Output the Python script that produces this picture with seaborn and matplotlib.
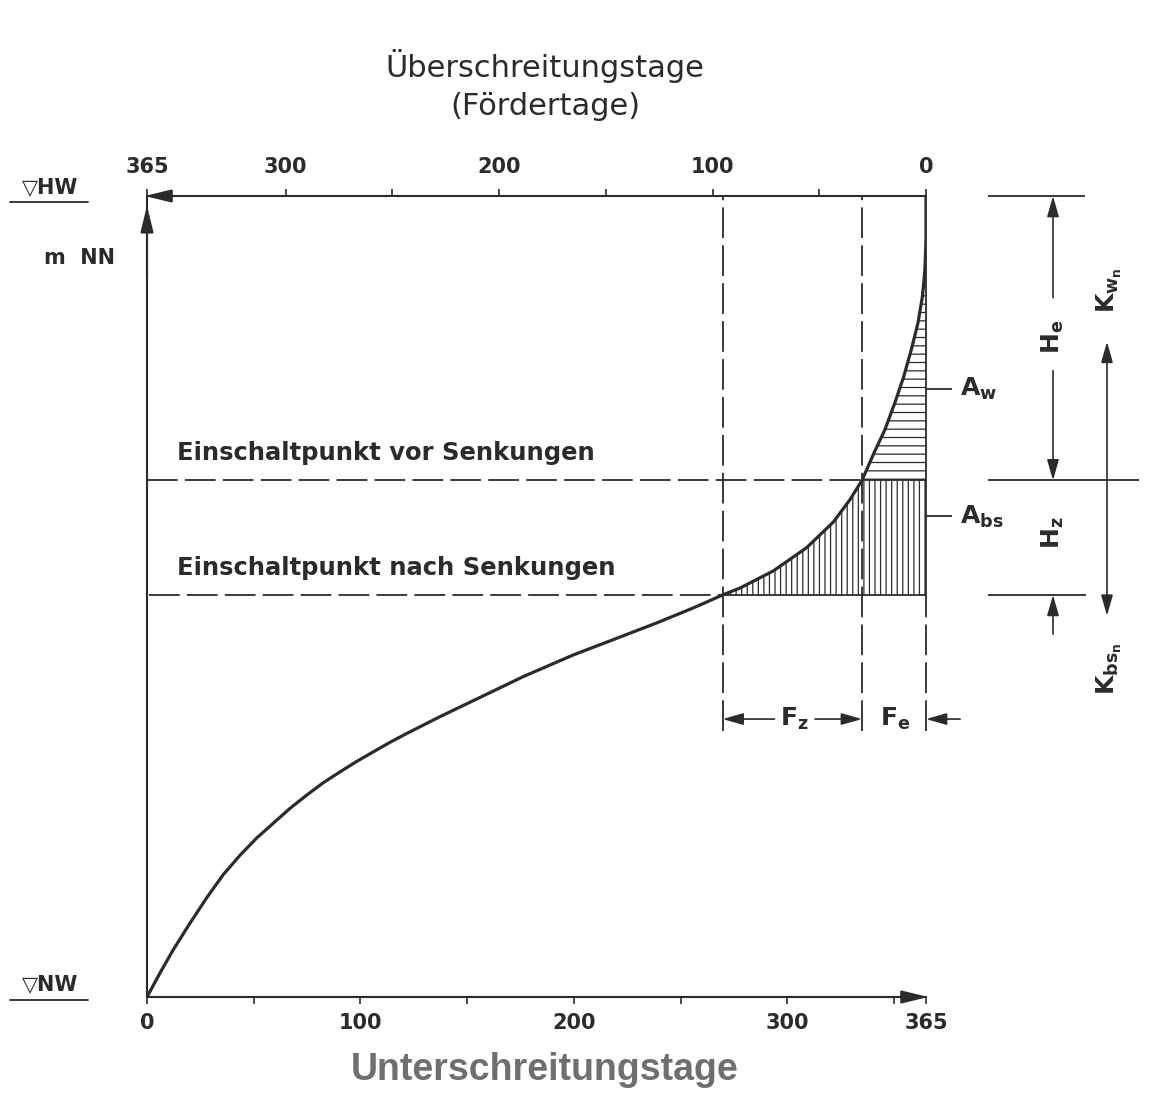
import numpy as np
import pandas as pd
import matplotlib
matplotlib.use("Agg")
import matplotlib.pyplot as plt
import seaborn as sns

# ---------------- data ----------------
days = [0, 6.1, 12.3, 20.1, 28.0, 35.8, 43.6, 51.4, 59.2, 67.0, 74.8, 82.6,
        90.4, 98.2, 106.0, 113.9, 121.7, 129.5, 137.3, 145.1, 152.9, 160.7,
        168.5, 176.3, 184.1, 191.9, 199.7, 207.5, 215.4, 223.2, 231.0, 238.8,
        246.6, 254.4, 262.2, 269.7, 277.9, 293.5, 309.1, 321.6, 329.4, 335.0,
        340.6, 345.7, 350.3, 354.5, 358.1, 361.2, 363.3, 364.5, 365, 365]
levels = [0, 3.0, 5.9, 9.2, 12.4, 15.3, 17.7, 19.85, 21.7, 23.55, 25.2, 26.75,
          28.1, 29.4, 30.6, 31.8, 32.9, 33.95, 35.0, 36.0, 37.0, 38.0, 39.0,
          40.0, 40.9, 41.8, 42.7, 43.5, 44.3, 45.1, 45.9, 46.7, 47.55, 48.4,
          49.3, 50.2, 51.06, 53.2, 56.1, 59.3, 62.1, 64.5, 67.9, 70.8, 74.1,
          77.4, 80.8, 84.1, 87.4, 90.8, 94.5, 100]
vor_day, vor_level = 335.0, 64.5      # Einschaltpunkt vor Senkungen
nach_day, nach_level = 269.7, 50.2    # Einschaltpunkt nach Senkungen
bottom_ticks = [0, 100, 200, 300, 365]
bottom_minor = [50, 150, 250, 350]
top_ticks = [365, 300, 200, 100, 0]
top_minor = [250, 150, 50]
xlabel_bottom = "Unterschreitungstage"
xlabel_top = "Überschreitungstage\n(Fördertage)"
label_vor = "Einschaltpunkt vor Senkungen"
label_nach = "Einschaltpunkt nach Senkungen"

# ---------------- style ----------------
sns.set_style("ticks")
plt.rcParams["font.family"] = ["DejaVu Sans"]
plt.rcParams["mathtext.fontset"] = "dejavusans"
plt.rcParams["hatch.linewidth"] = 0.9
INK = "#2b2b2b"
DASH = (0, (17, 4))

W, H = 1159, 1113
fig = plt.figure(figsize=(W / 100, H / 100), dpi=100)
fig.patch.set_facecolor("white")
ax = fig.add_axes([147 / W, 116 / H, 779 / W, 801 / H])
ax.set_facecolor("white")

df = pd.DataFrame({"days": days, "level": levels})
sns.lineplot(data=df, x="days", y="level", sort=False, estimator=None,
             color=INK, lw=2.3, ax=ax, zorder=5)
ax.set_xlim(0, 365)
ax.set_ylim(0, 100)
ax.set_xlabel("")
ax.set_ylabel("")

d = np.array(days)
l = np.array(levels)
m_w = l >= vor_level
ax.fill_betweenx(l[m_w], d[m_w], 365, facecolor="none", edgecolor=INK,
                 hatch="--", linewidth=0, zorder=2)
m_bs = (l >= nach_level) & (l <= vor_level)
ax.fill_betweenx(l[m_bs], d[m_bs], 365, facecolor="none", edgecolor=INK,
                 hatch="|||", linewidth=0, zorder=2)

# solid borders of the hatched areas
ax.hlines(vor_level, vor_day, 365, color=INK, lw=1.3, zorder=3)
ax.hlines(nach_level, nach_day, 365, color=INK, lw=1.3, zorder=3)
ax.vlines(365, nach_level, 100, color=INK, lw=1.3, zorder=3, clip_on=False)

# dashed construction lines
dim_level = 34.7
ax.hlines(vor_level, 0, vor_day, color=INK, lw=1.3, linestyles=DASH)
ax.hlines(nach_level, 1, nach_day, color=INK, lw=1.3, linestyles=DASH)
for xv in (nach_day, vor_day):
    ax.vlines(xv, dim_level - 1.5, 100, color=INK, lw=1.3, linestyles=DASH)
ax.vlines(365, dim_level - 1.5, nach_level, color=INK, lw=1.3,
          linestyles=DASH, clip_on=False)

# ---------------- axes / ticks ----------------
ax.spines[["right", "top"]].set_visible(False)
for s in ("left", "bottom"):
    ax.spines[s].set_linewidth(1.5)
    ax.spines[s].set_color(INK)
ax.set_yticks([])
ax.set_xticks(bottom_ticks)
ax.set_xticks(bottom_minor, minor=True)
ax.set_xticklabels([str(t) for t in bottom_ticks], fontsize=15,
                   fontweight="bold", color=INK)
ax.tick_params(axis="x", which="both", direction="out", length=5,
               width=1.2, color=INK, pad=6.5)

flip = lambda x: 365 - x
secax = ax.secondary_xaxis("top", functions=(flip, flip))
secax.set_xticks(top_ticks)
secax.set_xticks(top_minor, minor=True)
secax.set_xticklabels([str(t) for t in top_ticks], fontsize=15,
                      fontweight="bold", color=INK)
secax.tick_params(axis="x", which="both", direction="out", length=5,
                  width=1.2, color=INK, pad=8.5)
secax.spines["top"].set_linewidth(1.5)
secax.spines["top"].set_color(INK)

# axis arrows
def arrow(x0, y0, x1, y1, style="-|>", lw=1.3, hl=0.7, hw=0.2, ms=18):
    ax.annotate("", xy=(x1, y1), xytext=(x0, y0),
                arrowprops=dict(arrowstyle=f"{style},head_length={hl},head_width={hw}",
                                color=INK, lw=lw, shrinkA=0, shrinkB=0,
                                mutation_scale=ms),
                annotation_clip=False)

arrow(350, 0, 366, 0, lw=1.5, hl=0.9, hw=0.22)
arrow(12, 100, -1, 100, lw=1.5, hl=0.9, hw=0.22)
arrow(0, 90, 0, 98.8, lw=1.5, hl=0.9, hw=0.22)

# axis titles
ax.set_xlabel(xlabel_bottom, fontsize=27, fontweight="bold", color="#6f6f6f",
              fontfamily=["Liberation Sans", "DejaVu Sans"])
ax.xaxis.set_label_coords(0.511, -0.0911, transform=ax.transAxes)
ax.xaxis.label.set_va("center")
secax.set_xlabel(xlabel_top, fontsize=22, color=INK, linespacing=1.35)
secax.xaxis.set_label_coords(0.511, 1.1386, transform=ax.transAxes)
secax.xaxis.label.set_va("center")

# left labels
ax.text(-0.124, 1.011, "▽HW", transform=ax.transAxes, ha="center",
        va="center", fontsize=15, fontweight="bold", color=INK)
ax.plot([-0.176, -0.076], [0.9925, 0.9925], transform=ax.transAxes,
        color=INK, lw=1.3, clip_on=False)
ax.text(-0.124, 0.0162, "▽NW", transform=ax.transAxes, ha="center",
        va="center", fontsize=15, fontweight="bold", color=INK)
ax.plot([-0.176, -0.076], [-0.0037, -0.0037], transform=ax.transAxes,
        color=INK, lw=1.3, clip_on=False)
ax.text(-0.087, 0.9226, "m  NN", transform=ax.transAxes, ha="center",
        va="center", fontsize=15, fontweight="bold", color=INK)

# Einschaltpunkt labels
ax.text(14, vor_level + 1.9, label_vor, ha="left", va="bottom", fontsize=17.5,
        fontweight="bold", color=INK)
ax.text(14, nach_level + 1.9, label_nach, ha="left", va="bottom",
        fontsize=17.5, fontweight="bold", color=INK)

# area labels
ax.hlines([75.9, 60.0], 365, 377, color=INK, lw=1.3, clip_on=False)
ax.text(381, 75.9, r"$\mathbf{A_w}$", ha="left", va="center", fontsize=18,
        color=INK)
ax.text(381, 60.0, r"$\mathbf{A_{bs}}$", ha="left", va="center", fontsize=18,
        color=INK)

# F dimensions
arrow(294, dim_level, nach_day, dim_level, lw=1.2)
arrow(313, dim_level, vor_day, dim_level, lw=1.2)
arrow(381, dim_level, 365, dim_level, lw=1.2)
ax.text(303.5, dim_level, r"$\mathbf{F_z}$", ha="center", va="center",
        fontsize=18, color=INK)
ax.text(350.5, dim_level, r"$\mathbf{F_e}$", ha="center", va="center",
        fontsize=18, color=INK)

# right-hand dimension lines
ax.hlines(100, 394, 439.5, color=INK, lw=1.3, clip_on=False)
ax.hlines(vor_level, 394, 465, color=INK, lw=1.3, clip_on=False)
ax.hlines(nach_level, 394, 440, color=INK, lw=1.3, clip_on=False)
x_h = 424.5
arrow(x_h, 87.3, x_h, 100, lw=1.2)
arrow(x_h, 78.2, x_h, vor_level, lw=1.2)
arrow(x_h, 45.3, x_h, nach_level, lw=1.2)
ax.text(x_h, 82.4, r"$\mathbf{H_e}$", rotation=90, ha="center", va="center",
        fontsize=18, color=INK)
ax.text(x_h, 58.0, r"$\mathbf{H_z}$", rotation=90, ha="center", va="center",
        fontsize=18, color=INK)
x_k = 449.8
arrow(x_k, 47.6, x_k, 81.8, style="<|-|>", lw=1.2)
ax.text(x_k + 1, 88.2, r"$\mathbf{K_{w_n}}$", rotation=90, ha="center",
        va="center", fontsize=18, color=INK)
ax.text(x_k + 1, 41.0, r"$\mathbf{K_{bs_n}}$", rotation=90, ha="center",
        va="center", fontsize=18, color=INK)

fig.savefig("out.png", dpi=100, facecolor="white")
